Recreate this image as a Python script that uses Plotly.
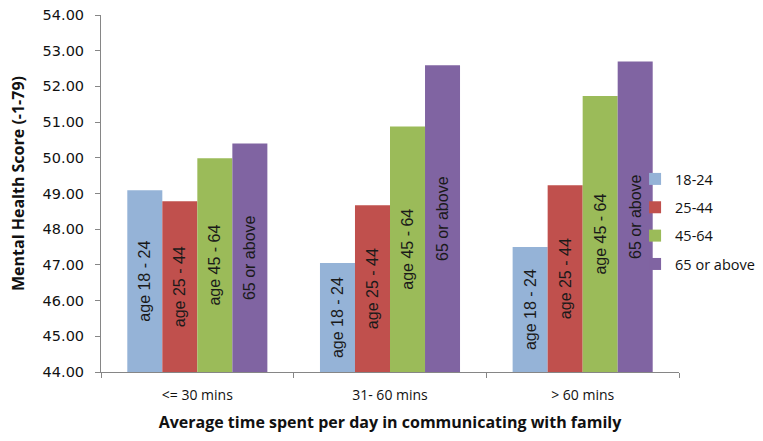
import plotly.graph_objects as go

categories = ["<= 30 mins", "31- 60 mins", "> 60 mins"]
series_names = ["18-24", "25-44", "45-64", "65 or above"]
bar_labels = ["age 18 - 24", "age 25 - 44", "age 45 - 64", "65 or above"]
values_18_24 = [49.09, 47.05, 47.50]
values_25_44 = [48.78, 48.67, 49.23]
values_45_64 = [49.99, 50.88, 51.73]
values_65_up = [50.40, 52.59, 52.70]
colors = ["#95B3D7", "#C0504D", "#9BBB59", "#8064A2"]
axis_min = 44

all_values = [values_18_24, values_25_44, values_45_64, values_65_up]

fig = go.Figure()
for name, lab, vals, col in zip(series_names, bar_labels, all_values, colors):
    fig.add_trace(go.Bar(
        name=name, x=categories, y=[v - axis_min for v in vals], base=axis_min,
        customdata=vals, hovertemplate="%{x}<br>%{customdata:.2f}<extra>" + name + "</extra>",
        marker=dict(color=col, line=dict(width=0)),
        text=[lab] * len(vals), textposition="inside", insidetextanchor="middle",
        textangle=-90, textfont=dict(family="Liberation Sans, Arial", size=16, color="#1a1a1a"),
        constraintext="none", legendgroup=name,
    ))

fig.update_layout(
    width=763, height=441,
    margin=dict(l=101, r=84, t=15, b=69, autoexpand=False),
    paper_bgcolor="white", plot_bgcolor="white",
    barmode="group", bargap=0.273, bargroupgap=0,
    showlegend=True,
    legend=dict(x=0.924, y=0.4216, xanchor="left", yanchor="middle",
                bgcolor="rgba(0,0,0,0)", font=dict(family="Open Sans", size=14.5, color="#111"),
                traceorder="grouped", tracegroupgap=6.5),
    xaxis=dict(
        showline=True, linecolor="#868686", linewidth=1,
        ticks="outside", ticklen=5, tickcolor="#868686", tickson="boundaries",
        tickfont=dict(family="Open Sans", size=14, color="#111"),
        ticklabelstandoff=10,
        title=dict(text="<b>Average time spent per day in communicating with family</b>",
                   font=dict(family="Open Sans", size=16, color="#111"), standoff=14),
        showgrid=False,
    ),
    yaxis=dict(
        range=[44, 54], dtick=1, tickformat=".2f",
        showline=True, linecolor="#868686", linewidth=1,
        ticks="outside", ticklen=5, tickcolor="#868686",
        tickfont=dict(family="DejaVu Sans", size=14.5, color="#111"),
        ticklabelstandoff=8,
        showgrid=False, zeroline=False,
    ),
    annotations=[dict(
        text="<b>Mental Health Score (-1-79)</b>", textangle=-90,
        xref="paper", yref="paper", x=-101/578 + 18/578, y=(372 - 184) / 357,
        xanchor="center", yanchor="middle", showarrow=False,
        font=dict(family="Open Sans", size=16, color="#111"),
    )],
)

fig.write_html("out.html")
